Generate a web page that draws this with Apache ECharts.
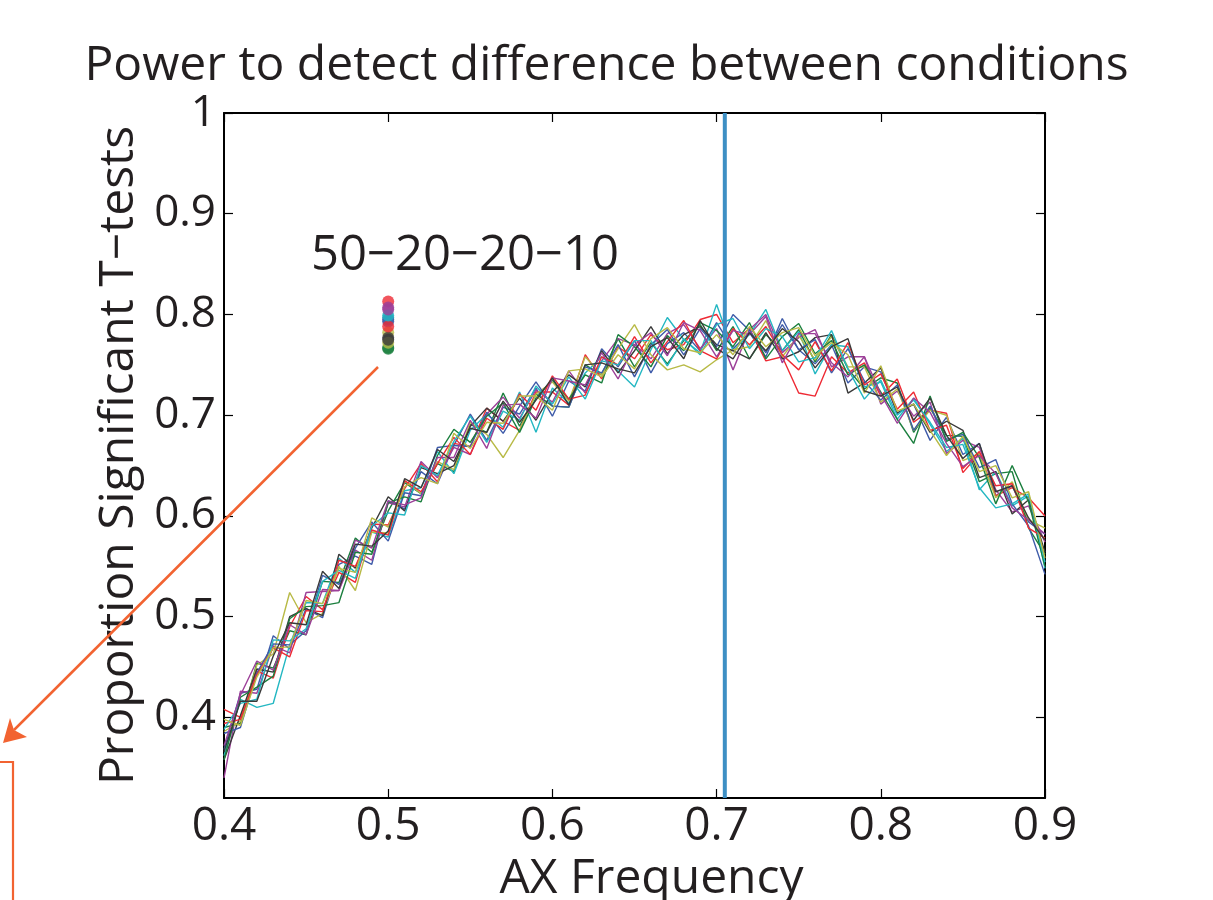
<!DOCTYPE html>
<html>
<head>
<meta charset="utf-8">
<script src="https://cdn.jsdelivr.net/npm/echarts@6/dist/echarts.min.js"></script>
<style>html,body{margin:0;padding:0;background:#fff;}#c{width:1213px;height:900px;}</style>
</head>
<body>
<div id="c"></div>
<script>
// ---- data ----
const xs = [0.40,0.41,0.42,0.43,0.44,0.45,0.46,0.47,0.48,0.49,0.50,0.51,0.52,0.53,0.54,0.55,0.56,0.57,0.58,0.59,0.60,0.61,0.62,0.63,0.64,0.65,0.66,0.67,0.68,0.69,0.70,0.71,0.72,0.73,0.74,0.75,0.76,0.77,0.78,0.79,0.80,0.81,0.82,0.83,0.84,0.85,0.86,0.87,0.88,0.89,0.90];

// proportions x 1000, one array per simulated run
const sBlue1  = [368,424,428,481,468,508,499,552,560,552,615,607,644,632,670,701,675,708,701,727,699,734,724,766,748,774,742,771,782,764,792,766,782,758,796,765,751,770,732,748,743,702,711,675,698,661,672,620,630,594,582];
const sGreen1 = [390,394,454,449,486,482,535,534,578,564,605,633,622,652,644,691,683,722,689,721,709,708,750,740,776,748,772,751,774,790,764,788,756,780,764,785,753,780,746,726,737,732,683,707,680,679,634,642,644,588,562];
const sRed1   = [408,400,446,439,490,520,507,544,534,592,591,627,652,634,672,669,707,694,685,723,723,710,760,736,768,756,780,765,770,795,800,772,786,754,758,722,719,758,742,752,719,736,693,705,702,643,662,620,628,618,600];
const sCyan1  = [362,418,410,414,472,514,513,558,544,584,579,625,628,664,642,685,701,688,723,683,727,712,742,758,744,728,765,797,775,762,810,764,780,805,764,783,741,770,768,728,733,696,717,691,664,677,626,644,610,620,548];
const sMag1   = [340,426,424,471,464,524,525,526,566,556,613,609,654,638,668,661,701,718,697,725,713,744,722,754,776,770,756,781,790,766,786,745,785,800,762,777,785,748,758,758,711,724,699,713,662,675,668,626,604,610,574];
const sOlive1 = [386,396,452,463,524,494,503,550,526,584,583,635,622,654,646,693,681,658,685,721,733,714,758,740,766,790,760,745,750,743,755,765,768,794,758,779,755,778,748,748,713,726,685,705,700,655,662,618,634,596,588];
const sDark1  = [358,402,448,445,500,508,501,562,548,588,619,605,648,642,650,689,707,694,717,695,723,740,728,764,742,764,788,761,780,788,770,764,756,782,756,763,777,780,722,732,747,702,711,683,694,685,638,644,602,616,564];
const sBlue2  = [384,390,444,473,472,486,541,532,568,594,575,623,620,668,670,669,703,682,709,733,709,708,748,742,770,738,770,785,760,786,768,800,784,762,790,765,775,742,766,734,715,730,685,709,676,681,648,656,612,590,542];
const sGreen2 = [358,420,430,441,498,510,511,514,564,562,613,619,614,660,686,673,699,712,683,717,735,716,740,732,780,768,748,779,764,792,784,768,792,756,778,791,761,774,740,750,723,696,672,719,674,683,658,612,650,614,550];
const sRed2   = [394,398,442,469,460,506,505,556,550,586,581,635,624,652,678,661,697,686,721,705,739,716,720,758,750,778,752,773,794,764,756,786,770,788,760,745,773,744,772,730,741,706,723,685,690,647,664,630,632,588,578];
const sCyan2  = [388,414,418,477,476,488,535,546,538,590,603,601,650,640,674,699,673,704,695,729,711,738,716,754,750,774,774,749,776,760,790,796,766,786,778,753,757,784,746,716,735,700,715,693,668,671,628,608,612,622,554];
const sMag2   = [372,422,456,447,492,482,527,526,576,568,615,611,618,658,658,695,667,710,711,697,737,734,730,762,736,770,782,759,792,784,758,784,780,798,752,781,781,752,738,758,721,692,717,703,672,649,660,642,608,596,582];
const sOlive2 = [398,392,440,469,470,516,513,548,544,598,589,629,638,632,682,667,693,692,719,719,705,744,746,738,760,746,776,787,766,762,780,760,788,768,782,787,759,772,760,722,749,704,711,685,660,679,644,650,618,624,558];
const sDark2  = [366,416,416,461,494,492,545,528,572,570,585,637,628,666,654,687,683,714,693,715,737,710,750,752,746,742,768,777,756,794,766,756,782,764,786,773,747,768,776,724,719,728,695,717,680,657,672,624,630,598,576];

const seriesValues = [sBlue1,sGreen1,sRed1,sCyan1,sMag1,sOlive1,sDark1,sBlue2,sGreen2,sRed2,sCyan2,sMag2,sOlive2,sDark2];

// points at AX frequency 0.5 (one per run)
const dotX = 0.5;
const dotValues = [0.793,0.767,0.813,0.797,0.807,0.782,0.777,0.795,0.766,0.788,0.799,0.805,0.772,0.775];

const peakX = 0.705;
const yTicks = [0.4,0.5,0.6,0.7,0.8,0.9,1];
const xTicks = [0.4,0.5,0.6,0.7,0.8,0.9];
const annotation = '50\u221220\u221220\u221210';

// ---- styles ----
const palette = ['#3E5BA9','#1B7F3E','#EE2A34','#23B7C2','#9C3F98','#B8BA46','#3A3A3A'];
const FONT = 'Open Sans';
const ink = '#231F20';
const orange = '#F26331';

const chart = echarts.init(document.getElementById('c'), null, {renderer:'canvas'});

const series = seriesValues.map((vals, k) => ({
  type: 'line',
  data: vals.map((v, i) => [xs[i], v / 1000]),
  showSymbol: false,
  symbol: 'none',
  lineStyle: { width: 1.4, color: palette[k % palette.length] },
  itemStyle: { color: palette[k % palette.length] },
  z: 2,
  silent: true
}));

series.push({
  type: 'scatter',
  data: dotValues.map((v, k) => ({ value: [dotX, v], itemStyle: { color: palette[k % palette.length] } })),
  symbol: 'circle',
  symbolSize: 12,
  z: 3,
  silent: true
});

series.push({
  type: 'line',
  data: [[peakX, 0.32], [peakX, 1]],
  showSymbol: false,
  symbol: 'none',
  lineStyle: { width: 4, color: '#3D8FC4' },
  z: 5,
  silent: true
});

const axisLineStyle = { show: true, onZero: false, lineStyle: { color: '#000', width: 2 } };
const tickStyle = { show: true, inside: true, length: 9, lineStyle: { color: '#000', width: 1.2 } };

const option = {
  animation: false,
  backgroundColor: '#fff',
  title: {
    text: 'Power to detect difference between conditions',
    left: 'center',
    top: 37,
    textStyle: { fontFamily: FONT, fontSize: 48, fontWeight: 'normal', color: ink }
  },
  grid: { left: 224, right: 168, top: 113, bottom: 102, containLabel: false, outerBoundsMode: 'none' },
  xAxis: [{
    type: 'value', min: 0.4, max: 0.9, interval: 0.1, position: 'bottom',
    name: 'AX Frequency', nameLocation: 'middle', nameGap: 56,
    nameTextStyle: { fontFamily: FONT, fontSize: 48, color: ink, padding: [0, 0, 0, 34] },
    axisLine: axisLineStyle,
    axisTick: Object.assign({ customValues: xTicks }, tickStyle),
    axisLabel: { customValues: xTicks, formatter: v => v.toFixed(1), margin: 6, fontFamily: FONT, fontSize: 46, color: ink },
    splitLine: { show: false }
  }, {
    type: 'value', min: 0.4, max: 0.9, interval: 0.1, position: 'top',
    axisLine: axisLineStyle,
    axisTick: Object.assign({ customValues: xTicks }, tickStyle),
    axisLabel: { show: false },
    splitLine: { show: false }
  }],
  yAxis: [{
    type: 'value', min: 0.32, max: 1, position: 'left',
    name: 'Proportion Significant T\u2212tests', nameLocation: 'middle', nameGap: 79,
    nameTextStyle: { fontFamily: FONT, fontSize: 48, color: ink },
    axisLine: axisLineStyle,
    axisTick: Object.assign({ customValues: yTicks }, tickStyle),
    axisLabel: { customValues: yTicks, formatter: v => (Math.abs(v - 1) < 1e-9 ? '1' : v.toFixed(1)), margin: 8, fontFamily: FONT, fontSize: 44, color: ink },
    splitLine: { show: false }
  }, {
    type: 'value', min: 0.32, max: 1, position: 'right',
    axisLine: axisLineStyle,
    axisTick: Object.assign({ customValues: yTicks }, tickStyle),
    axisLabel: { show: false },
    splitLine: { show: false }
  }],
  series: series,
  graphic: [
    { type: 'text', x: 465, y: 256, z: 10,
      style: { text: annotation, align: 'center', verticalAlign: 'middle', fontFamily: FONT, fontSize: 49, fill: ink } },
    { type: 'line', z: 10, shape: { x1: 378, y1: 367, x2: 14, y2: 730 }, style: { stroke: orange, lineWidth: 2.5 } },
    { type: 'polygon', z: 10, shape: { points: [[3,743],[27,737],[14,730],[10,718]] }, style: { fill: orange } },
    { type: 'polyline', z: 10, shape: { points: [[-5,762],[13,762],[13,905]] }, style: { stroke: orange, lineWidth: 2.2, fill: null } }
  ]
};

chart.setOption(option);
</script>
</body>
</html>
